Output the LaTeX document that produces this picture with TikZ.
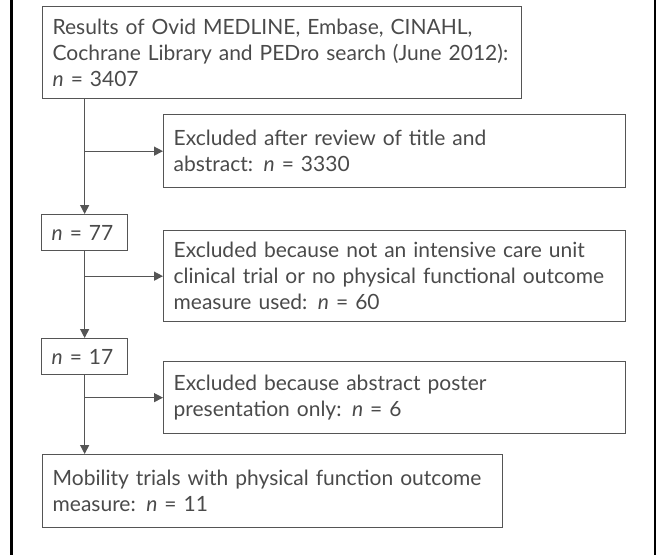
\documentclass[tikz,border=0pt]{standalone}
\usepackage{fontspec}
\setmainfont{Lato}
\usetikzlibrary{arrows.meta}
\definecolor{boxgray}{HTML}{555555}
\definecolor{txtgray}{HTML}{4A4A4A}
\tikzset{
  flowbox/.style={draw=boxgray,line width=1.3pt,text=txtgray,anchor=north west,
    align=left,inner xsep=10pt,inner ysep=0pt,
    font=\fontsize{21}{26}\selectfont},
  flowarr/.style={draw=boxgray,line width=1.3pt,-{Triangle[length=9pt,width=9pt]}}
}
\begin{document}
\begin{tikzpicture}[x=1pt,y=-1pt]
\useasboundingbox (0,0) rectangle (656,555);
\draw[line width=2.5pt] (11.5,0)--(11.5,555);
\draw[line width=2.5pt] (654.8,0)--(654.8,555);
\node[flowbox,text width=459pt,minimum height=92pt] (results) at (42,6)
  {Results of Ovid MEDLINE, Embase, CINAHL,\\Cochrane Library and PEDro search (June 2012):\\\textit{n} = 3407};
\node[flowbox,text width=442pt,minimum height=73pt] (excltitle) at (163,114)
  {Excluded after review of title and\\abstract: \textit{n} = 3330};
\node[flowbox,text width=66pt,minimum height=36pt] (nsevseven) at (41,214) {\textit{n} = 77};
\node[flowbox,text width=442pt,minimum height=91pt] (exclicu) at (163,230)
  {Excluded because not an intensive care unit\\clinical trial or no physical functional outcome\\measure used: \textit{n} = 60};
\node[flowbox,text width=66pt,minimum height=36pt] (nseventeen) at (41,338) {\textit{n} = 17};
\node[flowbox,text width=442pt,minimum height=72pt] (exclposter) at (163,361)
  {Excluded because abstract poster\\presentation only: \textit{n} = 6};
\node[flowbox,text width=440pt,minimum height=73pt] (mobility) at (42,454)
  {Mobility trials with physical function outcome\\measure: \textit{n} = 11};
\draw[flowarr] (results.south -| nsevseven.north) -- (nsevseven.north);
\draw[flowarr] (excltitle.west -| nsevseven.north) -- (excltitle.west);
\draw[flowarr] (nsevseven.south) -- (nseventeen.north);
\draw[flowarr] (exclicu.west -| nsevseven.north) -- (exclicu.west);
\draw[flowarr] (nseventeen.south) -- (mobility.north -| nseventeen.south);
\draw[flowarr] (exclposter.west -| nseventeen.south) -- (exclposter.west);
\end{tikzpicture}
\end{document}
